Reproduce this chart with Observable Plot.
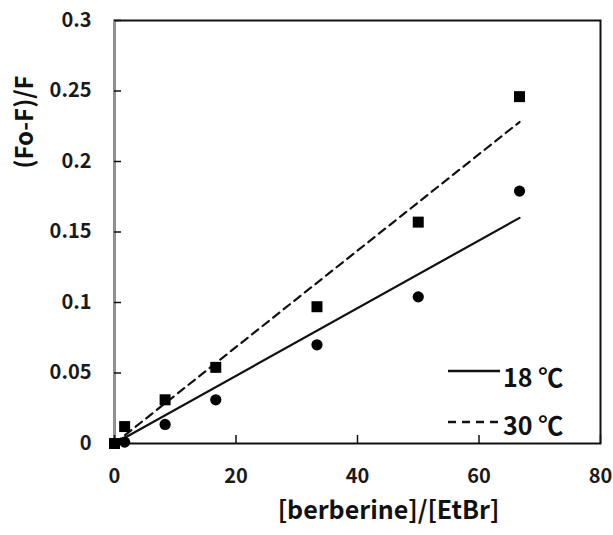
<!DOCTYPE html>
<html><head><meta charset="utf-8">
<script src="https://cdn.jsdelivr.net/npm/d3@7"></script>
<script src="https://cdn.jsdelivr.net/npm/@observablehq/plot@0.6"></script>
<style>body{margin:0;background:#fff}#chart{position:relative;width:613px;height:535px}</style>
</head><body><div id="chart"></div>
<script>
// data
const ratio = [0, 1.67, 8.33, 16.67, 33.33, 50, 66.67];
const q18 = [0, 0.001, 0.0135, 0.031, 0.070, 0.104, 0.179];
const q30 = [0, 0.012, 0.031, 0.054, 0.097, 0.157, 0.246];
const fitX = [0, 66.67];
const fit18 = [0, 0.160];
const fit30 = [0, 0.228];
const xTicks = [0, 20, 40, 60, 80];
const yTicks = [0, 0.05, 0.1, 0.15, 0.2, 0.25, 0.3];
const yTickLabels = ["0", "0.05", "0.1", "0.15", "0.2", "0.25", "0.3"];
const seriesNames = ["18 ℃", "30 ℃"];
const xTitle = "[berberine]/[EtBr]";
const yTitle = "(Fo-F)/F";

const pts18 = ratio.map((x, i) => ({x, y: q18[i]}));
const pts30 = ratio.map((x, i) => ({x, y: q30[i]}));
const line18 = fitX.map((x, i) => ({x, y: fit18[i]}));
const line30 = fitX.map((x, i) => ({x, y: fit30[i]}));

const font = "'Noto Sans CJK KR', 'Open Sans', sans-serif";
const chart = Plot.plot({
  width: 613, height: 535,
  marginLeft: 114, marginRight: 13, marginTop: 20, marginBottom: 92,
  style: {fontFamily: font, fontSize: "20px", color: "#1a1a1a", background: "white"},
  x: {domain: [0, 80]},
  y: {domain: [0, 0.3]},
  marks: [
    Plot.frame({stroke: "#111", strokeWidth: 2}),
    Plot.ruleX([0], {stroke: "#999", strokeWidth: 1.5}),
    Plot.axisY({ticks: yTicks, tickSize: -7, tickPadding: 30, strokeWidth: 1.5, stroke: "#111",
      tickFormat: d => yTickLabels[yTicks.indexOf(d)], fontWeight: "bold", label: null}),
    Plot.axisX({ticks: xTicks, tickSize: -8, tickPadding: 33, strokeWidth: 1.5, stroke: "#111",
      tickFormat: d => String(d), fontWeight: "bold", label: null}),
    Plot.line(line18, {x: "x", y: "y", stroke: "#111", strokeWidth: 2.2}),
    Plot.line(line30, {x: "x", y: "y", stroke: "#111", strokeWidth: 2.2, strokeDasharray: "8,5.5"}),
    Plot.dot(pts18, {x: "x", y: "y", r: 5.6, fill: "#000", symbol: "circle"}),
    Plot.dot(pts30, {x: "x", y: "y", r: 6.2, fill: "#000", symbol: "square"}),
    Plot.text([xTitle], {frameAnchor: "bottom", text: d => d, dx: 31, dy: 75, fontSize: 25, fontWeight: "bold", fill: "#111"}),
    Plot.text([yTitle], {frameAnchor: "left", textAnchor: "middle", lineAnchor: "middle", text: d => d, rotate: -90, dx: -89, dy: -110, fontSize: 24, fontWeight: "bold", fill: "#111"})
  ]
});
document.getElementById("chart").appendChild(chart);

// legend inside the plot, lower right
const svg = d3.select(chart);
const lg = svg.append("g").attr("font-family", font).attr("font-size", 25).attr("fill", "#111")
  .attr("text-anchor", "start").attr("font-weight", "bold");
const legendRows = [{y: 371, ty: 387, dash: null}, {y: 422, ty: 435, dash: "8,6"}];
legendRows.forEach((r, i) => {
  lg.append("line").attr("x1", 448).attr("x2", 500).attr("y1", r.y).attr("y2", r.y)
    .attr("stroke", "#111").attr("stroke-width", 2.4).attr("stroke-dasharray", r.dash);
  lg.append("text").attr("x", 503).attr("y", r.ty).attr("text-anchor", "start").text(seriesNames[i]);
});
</script>
</body></html>
